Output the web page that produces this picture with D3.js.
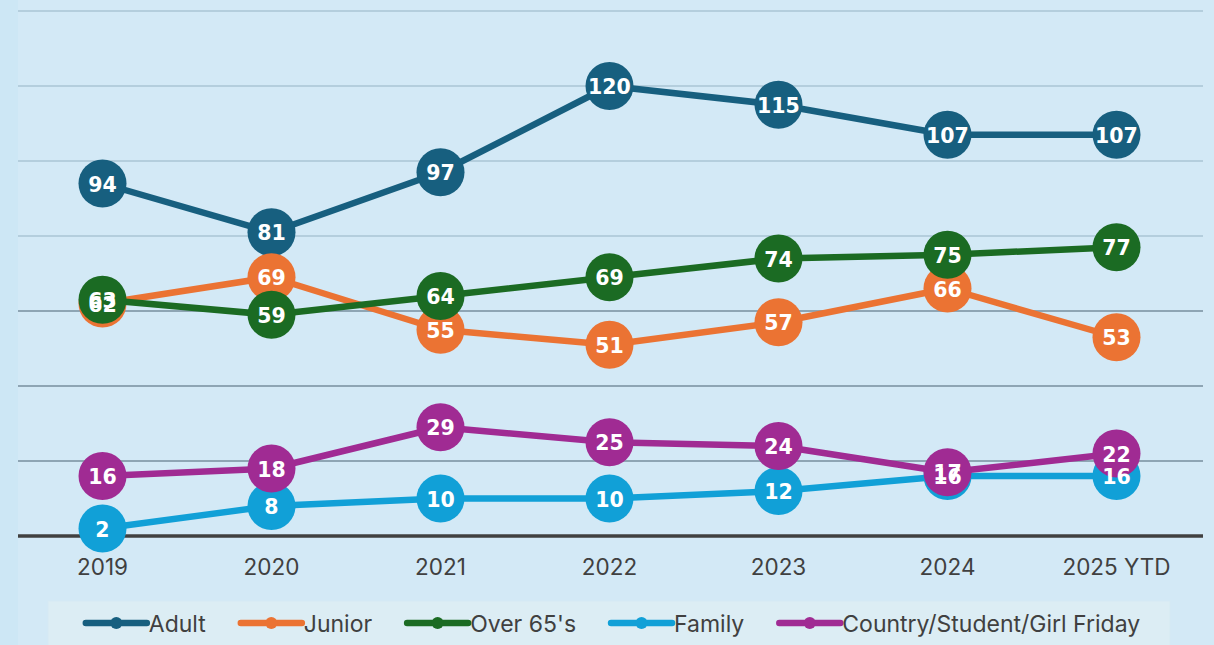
<!DOCTYPE html>
<html><head><meta charset="utf-8">
<script src="https://cdn.jsdelivr.net/npm/d3@7"></script>
<style>
html,body{margin:0;padding:0;background:#d3e9f6;}
svg{display:block;}
</style></head>
<body>
<svg id="chart" width="1214" height="645"></svg>
<script>
const categories = ["2019","2020","2021","2022","2023","2024","2025 YTD"];
const adult   = [94, 81, 97, 120, 115, 107, 107];
const junior  = [62, 69, 55, 51, 57, 66, 53];
const over65  = [63, 59, 64, 69, 74, 75, 77];
const family  = [2, 8, 10, 10, 12, 16, 16];
const country = [16, 18, 29, 25, 24, 17, 22];
const seriesNames = ["Adult","Junior","Over 65's","Family","Country/Student/Girl Friday"];
const seriesColors = ["#175f7f","#eb7333","#1b6b23","#11a0d7","#a02b93"];
const yTicks = [20,40,60,80,100,120,140];

const series = [adult, junior, over65, family, country].map((v,i)=>({name:seriesNames[i], color:seriesColors[i], values:v}));

const W=1214, H=645;
const svg = d3.select("#chart");
svg.append("rect").attr("width",W).attr("height",H).attr("fill","#d3e9f6");
svg.append("rect").attr("width",18).attr("height",H).attr("fill","#cde7f5");

const x = d3.scaleBand().domain(categories).range([18,1201]);
const y = d3.scaleLinear().domain([0,140]).range([536,11]);
const cx = c => x(c) + x.bandwidth()/2;

// gridlines
const grid = svg.append("g");
grid.selectAll("line").data(yTicks).join("line")
  .attr("x1",18).attr("x2",1203)
  .attr("y1",d=>y(d)).attr("y2",d=>y(d))
  .attr("stroke",d=> d<=60 ? "#8ea5b4" : "#b4cedd")
  .attr("stroke-width",2);

// x axis
const xAxis = svg.append("g").attr("transform","translate(0,536)")
  .call(d3.axisBottom(x).tickSize(0).tickPadding(0));
xAxis.select(".domain").remove();
xAxis.selectAll("text").attr("font-family","Inter, 'Open Sans', sans-serif")
  .attr("font-size",22.5).attr("fill","#404040").attr("y",31).attr("dy","0.35em");
svg.append("line").attr("x1",18).attr("x2",1203).attr("y1",y(0)).attr("y2",y(0))
  .attr("stroke","#404040").attr("stroke-width",3.5);

const line = d3.line().x((d,i)=>cx(categories[i])).y(d=>y(d));

series.forEach(s=>{
  const g = svg.append("g");
  g.append("path").datum(s.values).attr("d",line)
    .attr("fill","none").attr("stroke",s.color).attr("stroke-width",6.5).attr("stroke-linejoin","round");
  g.selectAll("circle").data(s.values).join("circle")
    .attr("cx",(d,i)=>cx(categories[i])).attr("cy",d=>y(d)).attr("r",24)
    .attr("fill",s.color);
});
series.forEach(s=>{
  svg.append("g").selectAll("text").data(s.values).join("text")
    .attr("x",(d,i)=>cx(categories[i])).attr("y",d=>y(d)+1)
    .attr("text-anchor","middle").attr("dominant-baseline","central")
    .attr("font-family","'DejaVu Sans', sans-serif").attr("font-weight",700)
    .attr("font-size",20.5).attr("fill","#ffffff").text(d=>d);
});

// legend
const lg = svg.append("g");
lg.append("rect").attr("x",48).attr("y",601).attr("width",1122).attr("height",50)
  .attr("fill","#dcedf4").attr("stroke","#d6eaf3");
const items = lg.selectAll("g.item").data(series).join("g").attr("class","item");
items.append("line").attr("x1",0).attr("x2",61).attr("y1",0).attr("y2",0)
  .attr("stroke",d=>d.color).attr("stroke-width",6.5).attr("stroke-linecap","round");
items.append("circle").attr("cx",30.5).attr("cy",0).attr("r",6).attr("fill",d=>d.color);
items.append("text").attr("x",63).attr("y",1).attr("dominant-baseline","central")
  .attr("font-family","Inter, 'Open Sans', sans-serif").attr("font-size",23).attr("fill","#404040")
  .text(d=>d.name);
let widths=[];
items.each(function(){ widths.push(63 + d3.select(this).select("text").node().getComputedTextLength()); });
const gap = 35;
const total = d3.sum(widths) + gap*(widths.length-1);
let start = 613 - total/2;
items.each(function(d,i){
  d3.select(this).attr("transform",`translate(${start},623)`);
  start += widths[i] + gap;
});
</script>
</body></html>
